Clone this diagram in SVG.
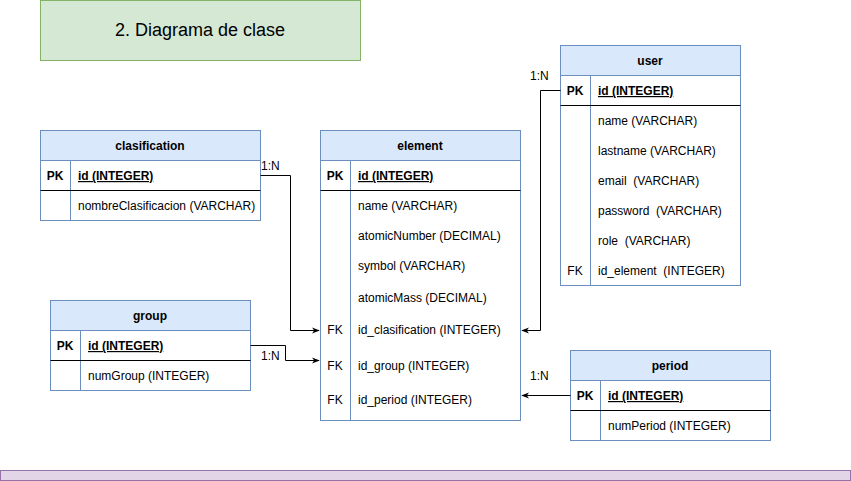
<svg xmlns="http://www.w3.org/2000/svg" width="851" height="481" viewBox="0 0 851 481">
<defs>
<style>
text{font-family:"Liberation Sans",Arial,sans-serif;font-size:12px;fill:#000}
.hdr{fill:#dae8fc;stroke:#6c8ebf;stroke-width:1}
.box{fill:#fff;stroke:#6c8ebf;stroke-width:1}
.sep{stroke:#000;stroke-width:1}
.div{stroke:#6c8ebf;stroke-width:1}
.b{font-weight:bold}
.c{text-anchor:middle}
.u{font-weight:bold;text-decoration:underline}
.conn{fill:none;stroke:#000;stroke-width:1}
</style>
<marker id="arr" viewBox="0 0 10 10" refX="9" refY="5" markerWidth="8" markerHeight="8" orient="auto" markerUnits="userSpaceOnUse">
<path d="M0,1 L10,5 L0,9 L3,5 Z" fill="#000"/>
</marker>
</defs>

<g id="title">
<rect x="40.5" y="0.5" width="320" height="60" fill="#d5e8d4" stroke="#82b366"/>
<text x="200" y="36" class="c" style="font-size:18px">2. Diagrama de clase</text>
</g>

<g id="clasification">
<rect class="box" x="40.5" y="130.5" width="220" height="90"/>
<rect class="hdr" x="40.5" y="130.5" width="220" height="30"/>
<line class="div" x1="70.5" y1="160.5" x2="70.5" y2="220.5"/>
<line class="sep" x1="40.5" y1="190.5" x2="260.5" y2="190.5"/>
<text x="150" y="150" class="b c">clasification</text>
<text x="55" y="180" class="b c">PK</text>
<text x="78" y="180" class="u">id (INTEGER)</text>
<text x="78" y="210">nombreClasificacion (VARCHAR)</text>
</g>

<g id="element">
<rect class="box" x="320.5" y="130.5" width="200" height="290"/>
<rect class="hdr" x="320.5" y="130.5" width="200" height="30"/>
<line class="div" x1="350.5" y1="160.5" x2="350.5" y2="420.5"/>
<line class="sep" x1="320.5" y1="190.5" x2="520.5" y2="190.5"/>
<text x="420" y="150" class="b c">element</text>
<text x="335" y="180" class="b c">PK</text>
<text x="358" y="180" class="u">id (INTEGER)</text>
<text x="358" y="210">name (VARCHAR)</text>
<text x="358" y="240">atomicNumber (DECIMAL)</text>
<text x="358" y="270">symbol (VARCHAR)</text>
<text x="358" y="302">atomicMass (DECIMAL)</text>
<text x="335" y="334" class="c">FK</text>
<text x="358" y="334">id_clasification (INTEGER)</text>
<text x="335" y="370" class="c">FK</text>
<text x="358" y="370">id_group (INTEGER)</text>
<text x="335" y="404" class="c">FK</text>
<text x="358" y="404">id_period (INTEGER)</text>
</g>

<g id="user">
<rect class="box" x="560.5" y="45.5" width="180" height="240"/>
<rect class="hdr" x="560.5" y="45.5" width="180" height="30"/>
<line class="div" x1="590.5" y1="75.5" x2="590.5" y2="285.5"/>
<line class="sep" x1="560.5" y1="105.5" x2="740.5" y2="105.5"/>
<text x="650" y="65" class="b c">user</text>
<text x="575" y="95" class="b c">PK</text>
<text x="598" y="95" class="u">id (INTEGER)</text>
<text x="598" y="125">name (VARCHAR)</text>
<text x="598" y="155">lastname (VARCHAR)</text>
<text x="598" y="185" xml:space="preserve">email  (VARCHAR)</text>
<text x="598" y="215" xml:space="preserve">password  (VARCHAR)</text>
<text x="598" y="245" xml:space="preserve">role  (VARCHAR)</text>
<text x="575" y="275" class="c">FK</text>
<text x="598" y="275" xml:space="preserve">id_element  (INTEGER)</text>
</g>

<g id="group">
<rect class="box" x="50.5" y="300.5" width="200" height="90"/>
<rect class="hdr" x="50.5" y="300.5" width="200" height="30"/>
<line class="div" x1="80.5" y1="330.5" x2="80.5" y2="390.5"/>
<line class="sep" x1="50.5" y1="360.5" x2="250.5" y2="360.5"/>
<text x="150" y="320" class="b c">group</text>
<text x="65" y="350" class="b c">PK</text>
<text x="88" y="350" class="u">id (INTEGER)</text>
<text x="88" y="380">numGroup (INTEGER)</text>
</g>

<g id="period">
<rect class="box" x="570.5" y="350.5" width="200" height="90"/>
<rect class="hdr" x="570.5" y="350.5" width="200" height="30"/>
<line class="div" x1="600.5" y1="380.5" x2="600.5" y2="440.5"/>
<line class="sep" x1="570.5" y1="410.5" x2="770.5" y2="410.5"/>
<text x="670" y="370" class="b c">period</text>
<text x="585" y="400" class="b c">PK</text>
<text x="608" y="400" class="u">id (INTEGER)</text>
<text x="608" y="430">numPeriod (INTEGER)</text>
</g>

<g id="connectors">
<path class="conn" d="M260.5,175.5 H290.5 V330.5 H319" marker-end="url(#arr)"/>
<text x="261" y="170">1:N</text>
<path class="conn" d="M250.5,345.5 H285.5 V360.5 H319" marker-end="url(#arr)"/>
<text x="261" y="360">1:N</text>
<path class="conn" d="M560.5,90.5 H540.5 V330.5 H522" marker-end="url(#arr)"/>
<text x="530" y="80">1:N</text>
<path class="conn" d="M570.5,395.5 H522" marker-end="url(#arr)"/>
<text x="530" y="380">1:N</text>
</g>

<g id="footer">
<rect x="0.5" y="470.5" width="850" height="10" fill="#e1d5e7" stroke="#9673a6"/>
</g>
</svg>
